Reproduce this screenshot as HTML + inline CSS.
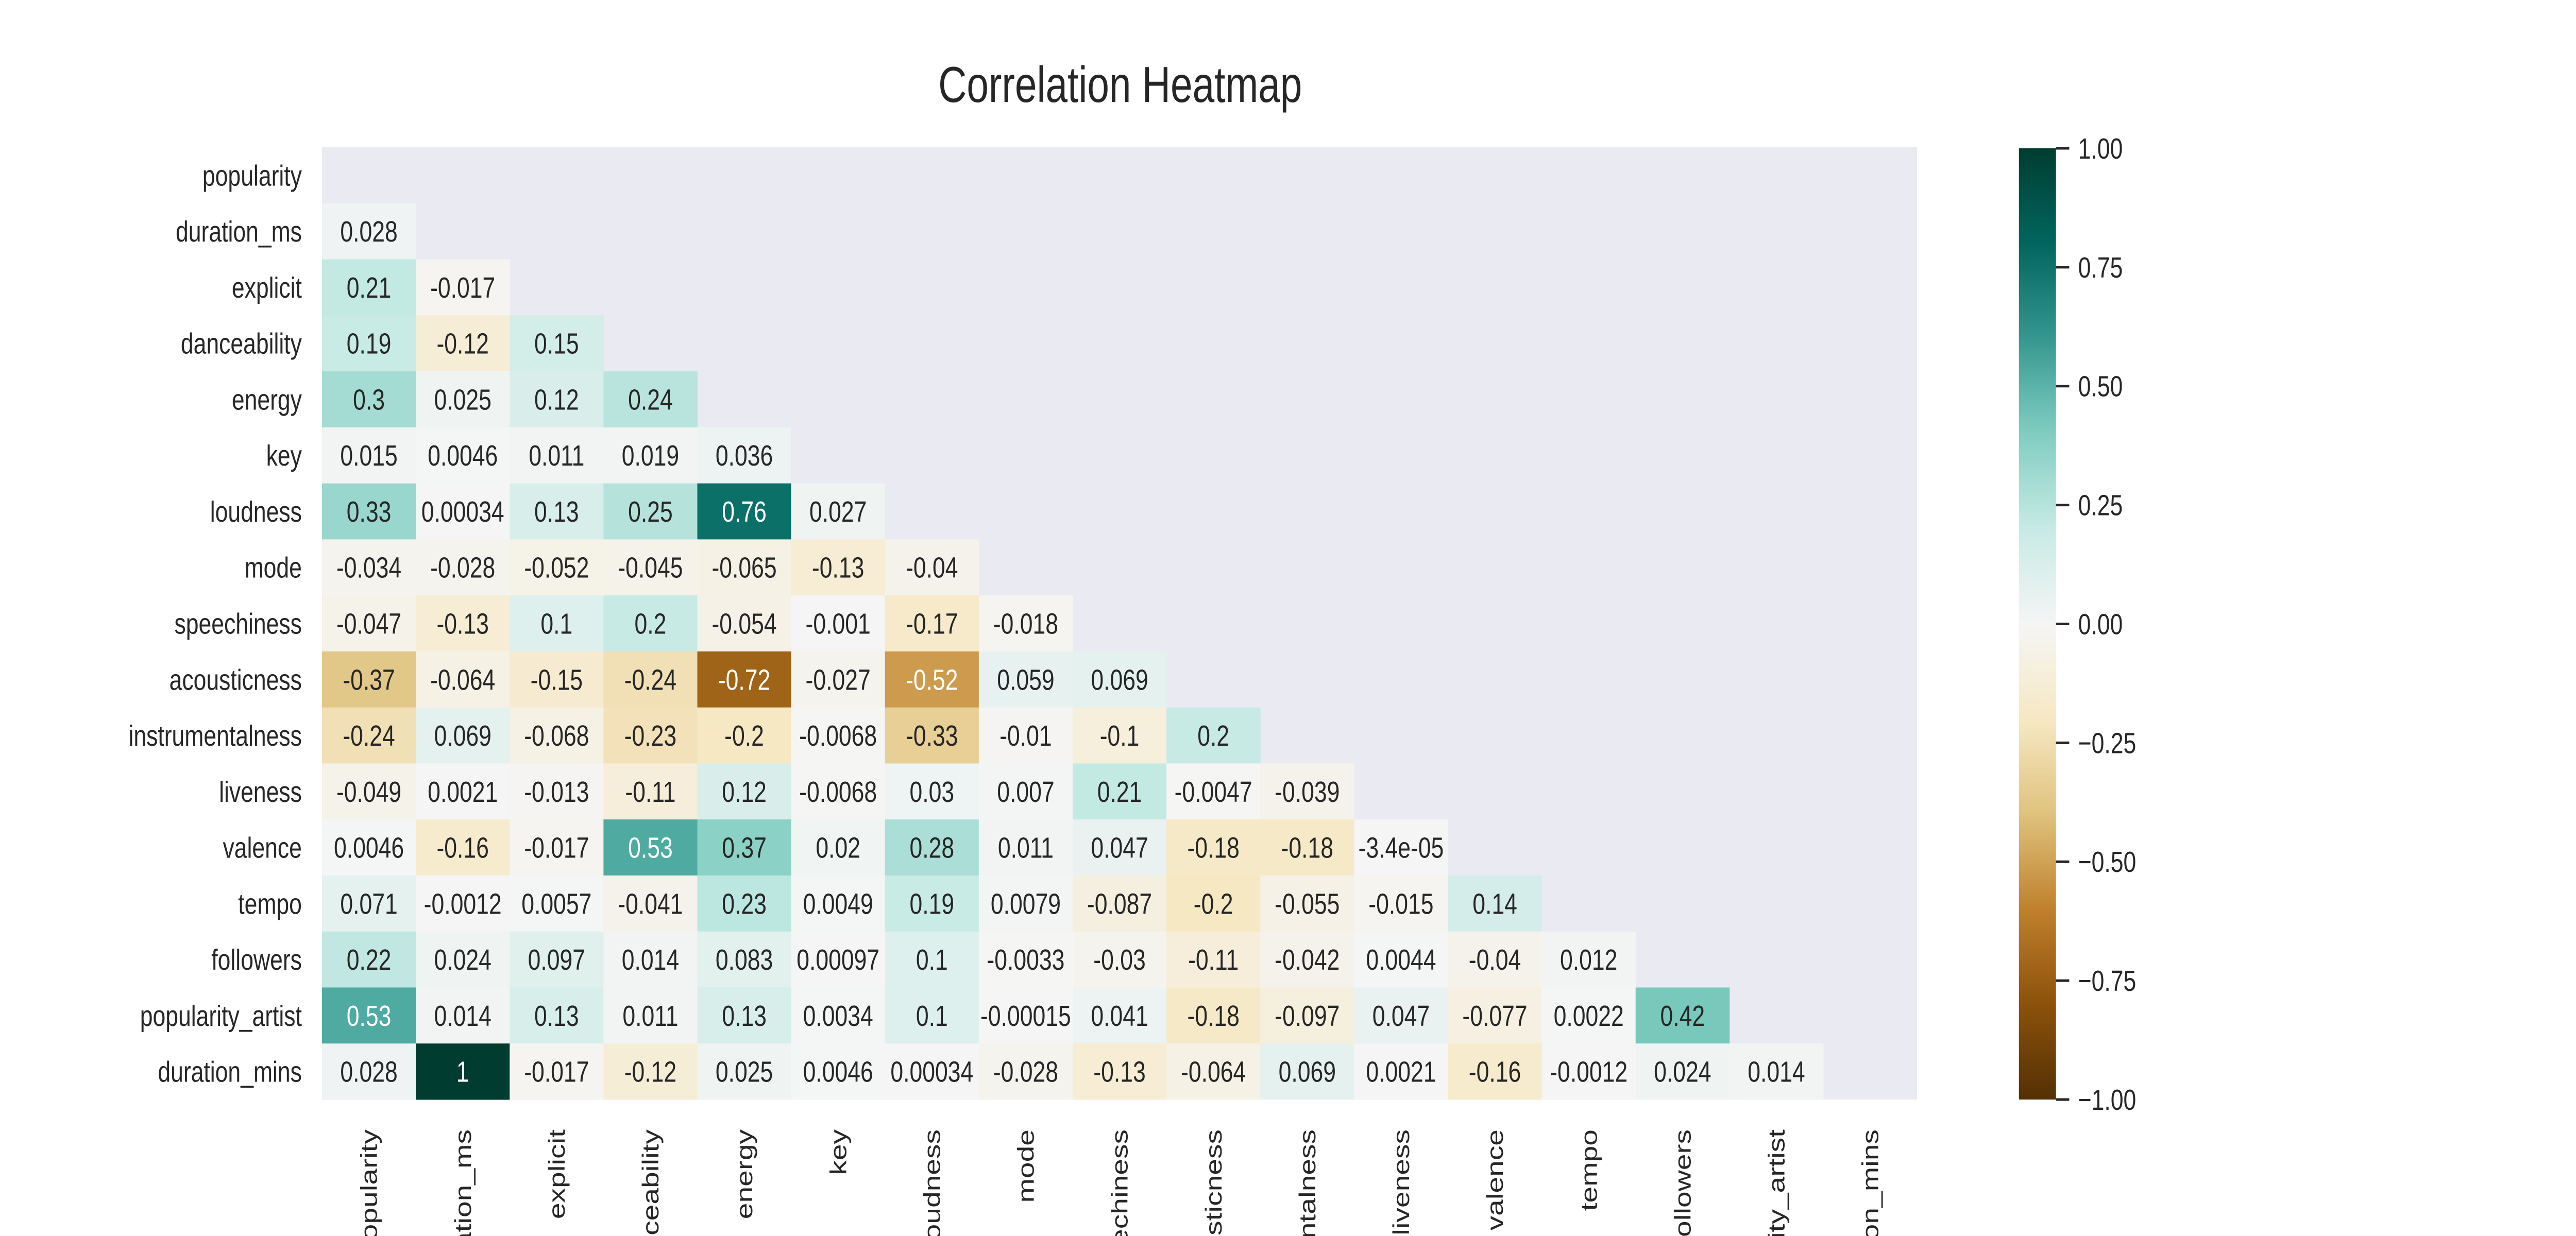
<!DOCTYPE html>
<html><head><meta charset="utf-8"><style>
html,body{margin:0;padding:0;background:#fff;width:100%;height:100%;overflow:hidden;}
svg{display:block;position:absolute;left:0;top:0;width:100vw;height:100vh;}
svg text{font-family:"Liberation Sans",Arial,sans-serif;fill:#262626;}
</style></head><body>
<svg id="chart" viewBox="0 0 6400 2400" preserveAspectRatio="none" xmlns="http://www.w3.org/2000/svg" overflow="hidden">
<rect width="6400" height="2400" fill="#fff"/>
<text x="2783" y="198" font-size="98" text-anchor="middle">Correlation Heatmap</text>
<rect x="800" y="286" width="3963" height="1849" fill="#eaeaf2"/>
<g id="cells"></g>
<g id="ylabels"></g>
<g id="xlabels"></g>
<defs><linearGradient id="cbgrad" x1="0" y1="1" x2="0" y2="0"></linearGradient></defs>
<rect x="5016" y="288" width="92" height="1847" fill="url(#cbgrad)"/>
<g id="cbticks"></g>
</svg>
<script>
const labels = ["popularity","duration_ms","explicit","danceability","energy","key","loudness","mode","speechiness","acousticness","instrumentalness","liveness","valence","tempo","followers","popularity_artist","duration_mins"];
const row1 = ["0.028"];
const row2 = ["0.21","-0.017"];
const row3 = ["0.19","-0.12","0.15"];
const row4 = ["0.3","0.025","0.12","0.24"];
const row5 = ["0.015","0.0046","0.011","0.019","0.036"];
const row6 = ["0.33","0.00034","0.13","0.25","0.76","0.027"];
const row7 = ["-0.034","-0.028","-0.052","-0.045","-0.065","-0.13","-0.04"];
const row8 = ["-0.047","-0.13","0.1","0.2","-0.054","-0.001","-0.17","-0.018"];
const row9 = ["-0.37","-0.064","-0.15","-0.24","-0.72","-0.027","-0.52","0.059","0.069"];
const row10 = ["-0.24","0.069","-0.068","-0.23","-0.2","-0.0068","-0.33","-0.01","-0.1","0.2"];
const row11 = ["-0.049","0.0021","-0.013","-0.11","0.12","-0.0068","0.03","0.007","0.21","-0.0047","-0.039"];
const row12 = ["0.0046","-0.16","-0.017","0.53","0.37","0.02","0.28","0.011","0.047","-0.18","-0.18","-3.4e-05"];
const row13 = ["0.071","-0.0012","0.0057","-0.041","0.23","0.0049","0.19","0.0079","-0.087","-0.2","-0.055","-0.015","0.14"];
const row14 = ["0.22","0.024","0.097","0.014","0.083","0.00097","0.1","-0.0033","-0.03","-0.11","-0.042","0.0044","-0.04","0.012"];
const row15 = ["0.53","0.014","0.13","0.011","0.13","0.0034","0.1","-0.00015","0.041","-0.18","-0.097","0.047","-0.077","0.0022","0.42"];
const row16 = ["0.028","1","-0.017","-0.12","0.025","0.0046","0.00034","-0.028","-0.13","-0.064","0.069","0.0021","-0.16","-0.0012","0.024","0.014"];
const rows = [[],row1,row2,row3,row4,row5,row6,row7,row8,row9,row10,row11,row12,row13,row14,row15,row16];
const cbTicks = ["1.00","0.75","0.50","0.25","0.00","\u22120.25","\u22120.50","\u22120.75","\u22121.00"];
const cbTickValues = [1,0.75,0.5,0.25,0,-0.25,-0.5,-0.75,-1];

const NS="http://www.w3.org/2000/svg";
const X0=800, Y0=286, CW=3963/17, CH=1849/17;
const xPos=i=>X0+i*CW, yPos=i=>Y0+i*CH;
const CBY0=288, CBY1=2135;
const cbY=v=>CBY1-(v+1)/2*(CBY1-CBY0);
const stops=["#543005","#8c510a","#bf812d","#dfc27d","#f6e8c3","#f5f5f5","#c7eae5","#80cdc1","#35978f","#01665e","#003c30"];
function hex(h){return [1,3,5].map(k=>parseInt(h.substr(k,2),16));}
function color(v){
  let t=(Math.max(-1,Math.min(1,v))+1)/2*10;
  let i=Math.min(9,Math.floor(t)),f=t-i;
  let a=hex(stops[i]),b=hex(stops[i+1]);
  return a.map((c,k)=>Math.round(c+(b[k]-c)*f));
}
function lum(c){
  const l=c.map(x=>{x/=255;return x<=0.03928?x/12.92:Math.pow((x+0.055)/1.055,2.4);});
  return 0.2126*l[0]+0.7152*l[1]+0.0722*l[2];
}
const gCells=document.getElementById('cells');
rows.forEach((r,i)=>{
  r.forEach((s,j)=>{
    const v=parseFloat(s), c=color(v);
    const rect=document.createElementNS(NS,'rect');
    
    
    rect.setAttribute('x',xPos(j));rect.setAttribute('y',yPos(i));
    rect.setAttribute('width',CW+0.5);rect.setAttribute('height',CH+0.5);
    rect.setAttribute('fill','rgb('+c.join(',')+')');
    gCells.appendChild(rect);
    const t=document.createElementNS(NS,'text');
    
    
    t.setAttribute('x',xPos(j)+CW/2);t.setAttribute('y',yPos(i)+CH/2+20);
    t.setAttribute('text-anchor','middle');t.setAttribute('font-size','57');
    t.style.fill=lum(c)>0.408?'#262626':'#ffffff';
    t.textContent=s;
    gCells.appendChild(t);
  });
});
const gy=document.getElementById('ylabels'), gx=document.getElementById('xlabels');
labels.forEach((l,i)=>{
  const t=document.createElementNS(NS,'text');
  
  
  t.setAttribute('x',750);t.setAttribute('y',yPos(i)+CH/2+20);
  t.setAttribute('text-anchor','end');t.setAttribute('font-size','57');
  t.textContent=l;gy.appendChild(t);
  const u=document.createElementNS(NS,'text');
  
  
  const cx=xPos(i)+CW/2+20;
  u.setAttribute('transform','translate('+cx+',2193) rotate(-90)');
  u.setAttribute('text-anchor','end');u.setAttribute('font-size','57');
  u.textContent=l;gx.appendChild(u);
});
const grad=document.getElementById('cbgrad');
for(let k=0;k<=40;k++){
  const v=-1+k/20, c=color(v);
  const s=document.createElementNS(NS,'stop');
  s.setAttribute('offset',(k/40*100)+'%');
  s.setAttribute('stop-color','rgb('+c.join(',')+')');
  grad.appendChild(s);
}
const gt=document.getElementById('cbticks');
cbTickValues.forEach((v,i)=>{
  const y=cbY(v);
  const ln=document.createElementNS(NS,'line');
  
  
  ln.setAttribute('x1',5108);ln.setAttribute('x2',5141);ln.setAttribute('y1',y);ln.setAttribute('y2',y);
  ln.setAttribute('stroke','#262626');ln.setAttribute('stroke-width','5');
  gt.appendChild(ln);
  const t=document.createElementNS(NS,'text');
  
  
  t.setAttribute('x',5163);t.setAttribute('y',y+20);t.setAttribute('font-size','57');
  t.textContent=cbTicks[i];gt.appendChild(t);
});
</script>
</body></html>
